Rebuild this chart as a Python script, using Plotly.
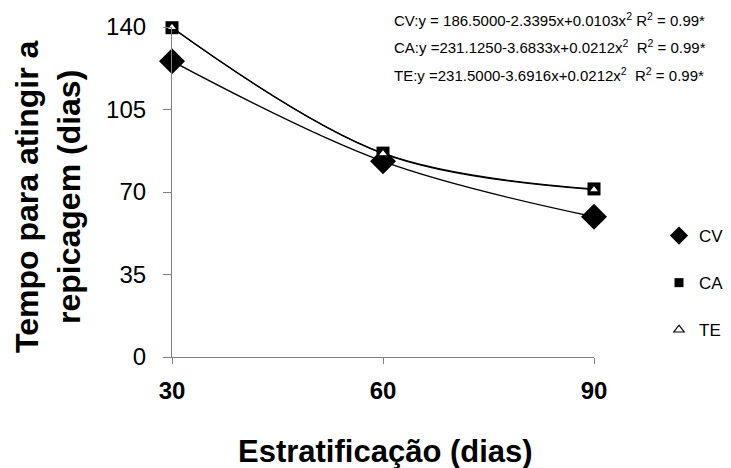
import plotly.graph_objects as go

# Data
estratificacao = [30, 60, 90]
cv = [125.5, 83.0, 59.5]
ca = [139.7, 86.5, 71.3]
te = [139.8, 86.3, 71.0]
y_ticks = [0, 35, 70, 105, 140]
x_ticks = [30, 60, 90]
equations = [
    "CV:y = 186.5000-2.3395x+0.0103x<sup>2</sup> R<sup>2</sup> = 0.99*",
    "CA:y =231.1250-3.6833x+0.0212x<sup>2</sup>  R<sup>2</sup> = 0.99*",
    "TE:y =231.5000-3.6916x+0.0212x<sup>2</sup>  R<sup>2</sup> = 0.99*",
]

FONT = "Liberation Sans, Arial, sans-serif"
fig = go.Figure()

# trend lines (smooth through points)
for ys in (cv, ca, te):
    fig.add_trace(go.Scatter(
        x=estratificacao, y=ys, mode="lines", showlegend=False,
        line=dict(color="black", width=1.3, shape="spline", smoothing=1.0),
        cliponaxis=False, hoverinfo="skip"))

# data markers
fig.add_trace(go.Scatter(
    x=estratificacao, y=cv, mode="markers", name="CV", showlegend=False,
    marker=dict(symbol="diamond", size=20, color="black"), cliponaxis=False))
fig.add_trace(go.Scatter(
    x=estratificacao, y=ca, mode="markers", name="CA", showlegend=False,
    marker=dict(symbol="square", size=13, color="black"), cliponaxis=False))
fig.add_trace(go.Scatter(
    x=estratificacao, y=te, mode="markers", name="TE", showlegend=False,
    marker=dict(symbol="triangle-up", size=9, color="white",
                line=dict(color="black", width=1.2)), cliponaxis=False))

# legend entries (marker glyphs as in the reference legend)
fig.add_trace(go.Scatter(x=[None], y=[None], mode="markers", name="CV", legendgroup="CV",
                         marker=dict(symbol="diamond", size=14, color="black")))
fig.add_trace(go.Scatter(x=[None], y=[None], mode="markers", name="CA", legendgroup="CA",
                         marker=dict(symbol="square", size=9, color="black")))
fig.add_trace(go.Scatter(x=[None], y=[None], mode="markers", name="TE", legendgroup="TE",
                         marker=dict(symbol="triangle-up", size=9, color="white",
                                     line=dict(color="black", width=1.2))))

# page has an 8px body margin: figure coords = page coords - 8
OFF = 8
PL, PR, PT, PB = 172, 594, 27, 357   # plot area in page pixels
W, H = 731 - OFF, 468 - OFF
L, T = PL - OFF, PT - OFF
pw, ph = PR - PL, PB - PT
R = W - L - pw
B = H - T - ph

def px_x(p):
    return (p - PL) / pw

def px_y(p):
    return (PB - p) / ph

annotations = []
for eq, yp in zip(equations, [20, 47, 74]):
    annotations.append(dict(
        text=eq, xref="paper", yref="paper", x=px_x(392), y=px_y(yp),
        xanchor="left", yanchor="middle", showarrow=False,
        font=dict(family=FONT, size=15, color="black")))

annotations.append(dict(
    text="<b>Tempo para atingir a<br>repicagem (dias)</b>",
    xref="paper", yref="paper", x=px_x(48), y=px_y(197),
    xanchor="center", yanchor="middle", textangle=-90, showarrow=False,
    font=dict(family=FONT, size=32, color="black")))
annotations.append(dict(
    text="<b>Estratificação (dias)</b>",
    xref="paper", yref="paper", x=px_x(385), y=px_y(451),
    xanchor="center", yanchor="middle", showarrow=False,
    font=dict(family=FONT, size=31, color="black")))

fig.update_layout(
    width=W, height=H,
    margin=dict(l=L, r=R, t=T, b=B, autoexpand=False),
    paper_bgcolor="white", plot_bgcolor="white",
    font=dict(family=FONT, color="black"),
    showlegend=True,
    legend=dict(xref="container", yref="container",
                x=(659 - OFF) / W, y=1 - (218 - OFF) / H, xanchor="left", yanchor="top",
                font=dict(family=FONT, size=17, color="black"),
                tracegroupgap=22, itemsizing="trace", itemwidth=30,
                bgcolor="rgba(0,0,0,0)"),
    annotations=annotations,
    xaxis=dict(range=[30, 90], tickvals=x_ticks, ticktext=[f"<b>{v}</b>" for v in x_ticks],
               showgrid=False, zeroline=False, showline=True, linecolor="#808080",
               linewidth=1.2, ticks="outside", ticklen=6, tickcolor="#808080",
               tickfont=dict(family=FONT, size=24, color="black"),
               ticklabelstandoff=6),
    yaxis=dict(range=[0, 140], tickvals=y_ticks, showgrid=False, zeroline=False,
               showline=True, linecolor="#808080", linewidth=1.2,
               ticks="outside", ticklen=8, tickcolor="#808080",
               tickfont=dict(family=FONT, size=24, color="black"),
               ticklabelstandoff=12),
)

fig.write_html("out.html")
